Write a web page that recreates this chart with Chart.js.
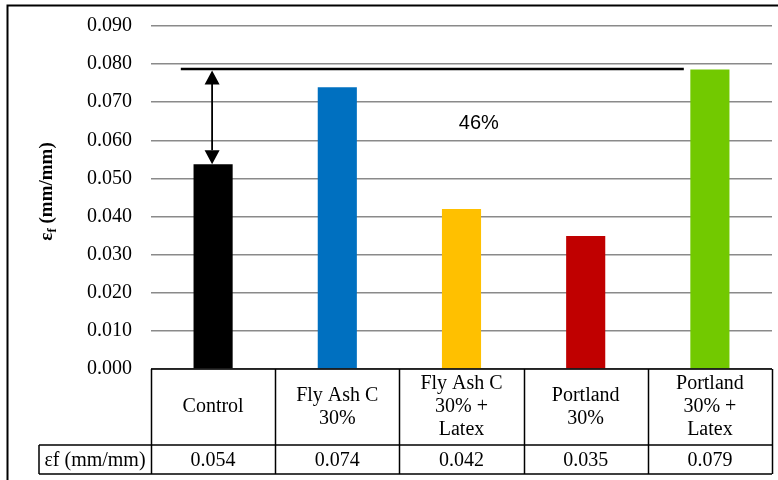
<!DOCTYPE html>
<html>
<head>
<meta charset="utf-8">
<script src="https://cdn.jsdelivr.net/npm/chart.js@4.4.0/dist/chart.umd.min.js"></script>
<style>
  html, body { margin: 0; padding: 0; background: #fff; }
  #wrap { width: 778px; height: 480px; }
</style>
</head>
<body>
<div id="wrap"><canvas id="c" width="778" height="480"></canvas></div>
<script>
// 数据
const categories = [
  ['Control'],
  ['Fly Ash C', '30%'],
  ['Fly Ash C', '30% +', 'Latex'],
  ['Portland', '30%'],
  ['Portland', '30% +', 'Latex'],
];
const strainValues = [0.0537, 0.0739, 0.0420, 0.0349, 0.0786];
const tableValues = ['0.054', '0.074', '0.042', '0.035', '0.079'];
const barColors = ['#000000', '#0070C0', '#FFC000', '#C00000', '#72C900'];
const yTicks = [0, 0.01, 0.02, 0.03, 0.04, 0.05, 0.06, 0.07, 0.08, 0.09];
const rowLabel = 'εf (mm/mm)';
const gainLabel = '46%';
const gainTop = 0.0787;      // 最大值参考线
const gainBottom = strainValues[0];

const serif = '"Liberation Serif", "Times New Roman", serif';
const sans = '"Liberation Sans", Arial, sans-serif';

// 画外框、数据表、Y轴标题、标注
const extras = {
  id: 'extras',
  afterDraw(chart) {
    const { ctx, chartArea: a, scales: { x, y } } = chart;
    ctx.save();

    // 外框
    ctx.strokeStyle = '#000';
    ctx.lineWidth = 2;
    ctx.beginPath();
    ctx.moveTo(7.5, 482);
    ctx.lineTo(7.5, 5.5);
    ctx.lineTo(780, 5.5);
    ctx.stroke();

    // 数据表
    const rowTop = a.bottom;
    const rowMid = a.bottom + 76;
    const rowBot = rowMid + 29;
    const labelLeft = 39;
    ctx.lineWidth = 1.5;
    ctx.beginPath();
    ctx.moveTo(a.left, rowTop); ctx.lineTo(a.right, rowTop);
    ctx.moveTo(labelLeft, rowMid); ctx.lineTo(a.right, rowMid);
    ctx.moveTo(labelLeft, rowBot); ctx.lineTo(a.right, rowBot);
    ctx.moveTo(labelLeft, rowMid); ctx.lineTo(labelLeft, rowBot);
    for (let i = 0; i <= categories.length; i++) {
      const px = Math.round(x.getPixelForValue(i - 0.5)) + 0.5;
      ctx.moveTo(px, rowTop); ctx.lineTo(px, rowBot);
    }
    ctx.stroke();

    ctx.fillStyle = '#000';
    ctx.font = '20px ' + serif;
    ctx.textAlign = 'center';
    ctx.textBaseline = 'middle';
    const lh = 23;
    categories.forEach((lines, i) => {
      const cx = x.getPixelForValue(i);
      const cy = (rowTop + rowMid) / 2 - (lines.length - 1) * lh / 2;
      lines.forEach((t, j) => ctx.fillText(t, cx, cy + j * lh));
      ctx.fillText(tableValues[i], cx, (rowMid + rowBot) / 2 + 1);
    });
    ctx.fillText(rowLabel, (labelLeft + a.left) / 2, (rowMid + rowBot) / 2 + 1);

    // Y轴标题 εf (mm/mm)，f 为下标
    ctx.save();
    ctx.translate(46, (a.top + a.bottom) / 2 - 6);
    ctx.rotate(-Math.PI / 2);
    ctx.textAlign = 'left';
    ctx.textBaseline = 'alphabetic';
    const big = 'bold 19px ' + serif;
    const small = 'bold 13px ' + serif;
    ctx.font = big;
    const w1 = ctx.measureText('ε').width;
    const w3 = ctx.measureText(' (mm/mm)').width;
    ctx.font = small;
    const w2 = ctx.measureText('f').width;
    let tx = -(w1 + w2 + w3) / 2;
    ctx.font = big; ctx.fillText('ε', tx, 6); tx += w1;
    ctx.font = small; ctx.fillText('f', tx, 10); tx += w2;
    ctx.font = big; ctx.fillText(' (mm/mm)', tx, 6);
    ctx.restore();

    // 标注：参考线 + 双向箭头 + 百分比
    const yTop = y.getPixelForValue(gainTop);
    const yBot = y.getPixelForValue(gainBottom);
    ctx.strokeStyle = '#000';
    ctx.lineWidth = 2.5;
    ctx.beginPath();
    ctx.moveTo(x.getPixelForValue(-0.26), yTop);
    ctx.lineTo(x.getPixelForValue(3.79), yTop);
    ctx.stroke();

    const ax = x.getPixelForValue(0) - 1;
    const head = 14, hw = 7.5;
    ctx.lineWidth = 1.8;
    ctx.beginPath();
    ctx.moveTo(ax, yTop + head); ctx.lineTo(ax, yBot - head);
    ctx.stroke();
    ctx.beginPath();
    ctx.moveTo(ax, yTop + 1.5); ctx.lineTo(ax - hw, yTop + head + 1.5); ctx.lineTo(ax + hw, yTop + head + 1.5);
    ctx.closePath();
    ctx.moveTo(ax, yBot); ctx.lineTo(ax - hw, yBot - head); ctx.lineTo(ax + hw, yBot - head);
    ctx.closePath();
    ctx.fill();

    ctx.font = '20px ' + sans;
    ctx.textAlign = 'center';
    ctx.textBaseline = 'middle';
    ctx.fillText(gainLabel, x.getPixelForValue(2.14), y.getPixelForValue(0.0645));

    ctx.restore();
  }
};

new Chart(document.getElementById('c'), {
  type: 'bar',
  data: {
    labels: categories.map(l => l.join(' ')),
    datasets: [{
      data: strainValues,
      backgroundColor: barColors,
      borderWidth: 0,
      barPercentage: 0.315,
      categoryPercentage: 1,
    }],
  },
  options: {
    responsive: false,
    animation: false,
    layout: { padding: { left: 0, right: 6, top: 26, bottom: 111 } },
    plugins: {
      legend: { display: false },
      tooltip: { enabled: false },
    },
    scales: {
      x: { display: false },
      y: {
        min: 0,
        max: 0.09,
        afterBuildTicks: s => { s.ticks = yTicks.map(v => ({ value: v })); },
        afterFit: s => { s.width = 151; s.paddingTop = 0; s.paddingBottom = 0; },
        border: { display: false },
        grid: { color: '#8a8a8a', lineWidth: 1.5, drawTicks: false },
        ticks: {
          padding: 19,
          color: '#000',
          font: { family: serif, size: 20 },
          callback: v => v.toFixed(3),
        },
      },
    },
  },
  plugins: [extras],
});
</script>
</body>
</html>
